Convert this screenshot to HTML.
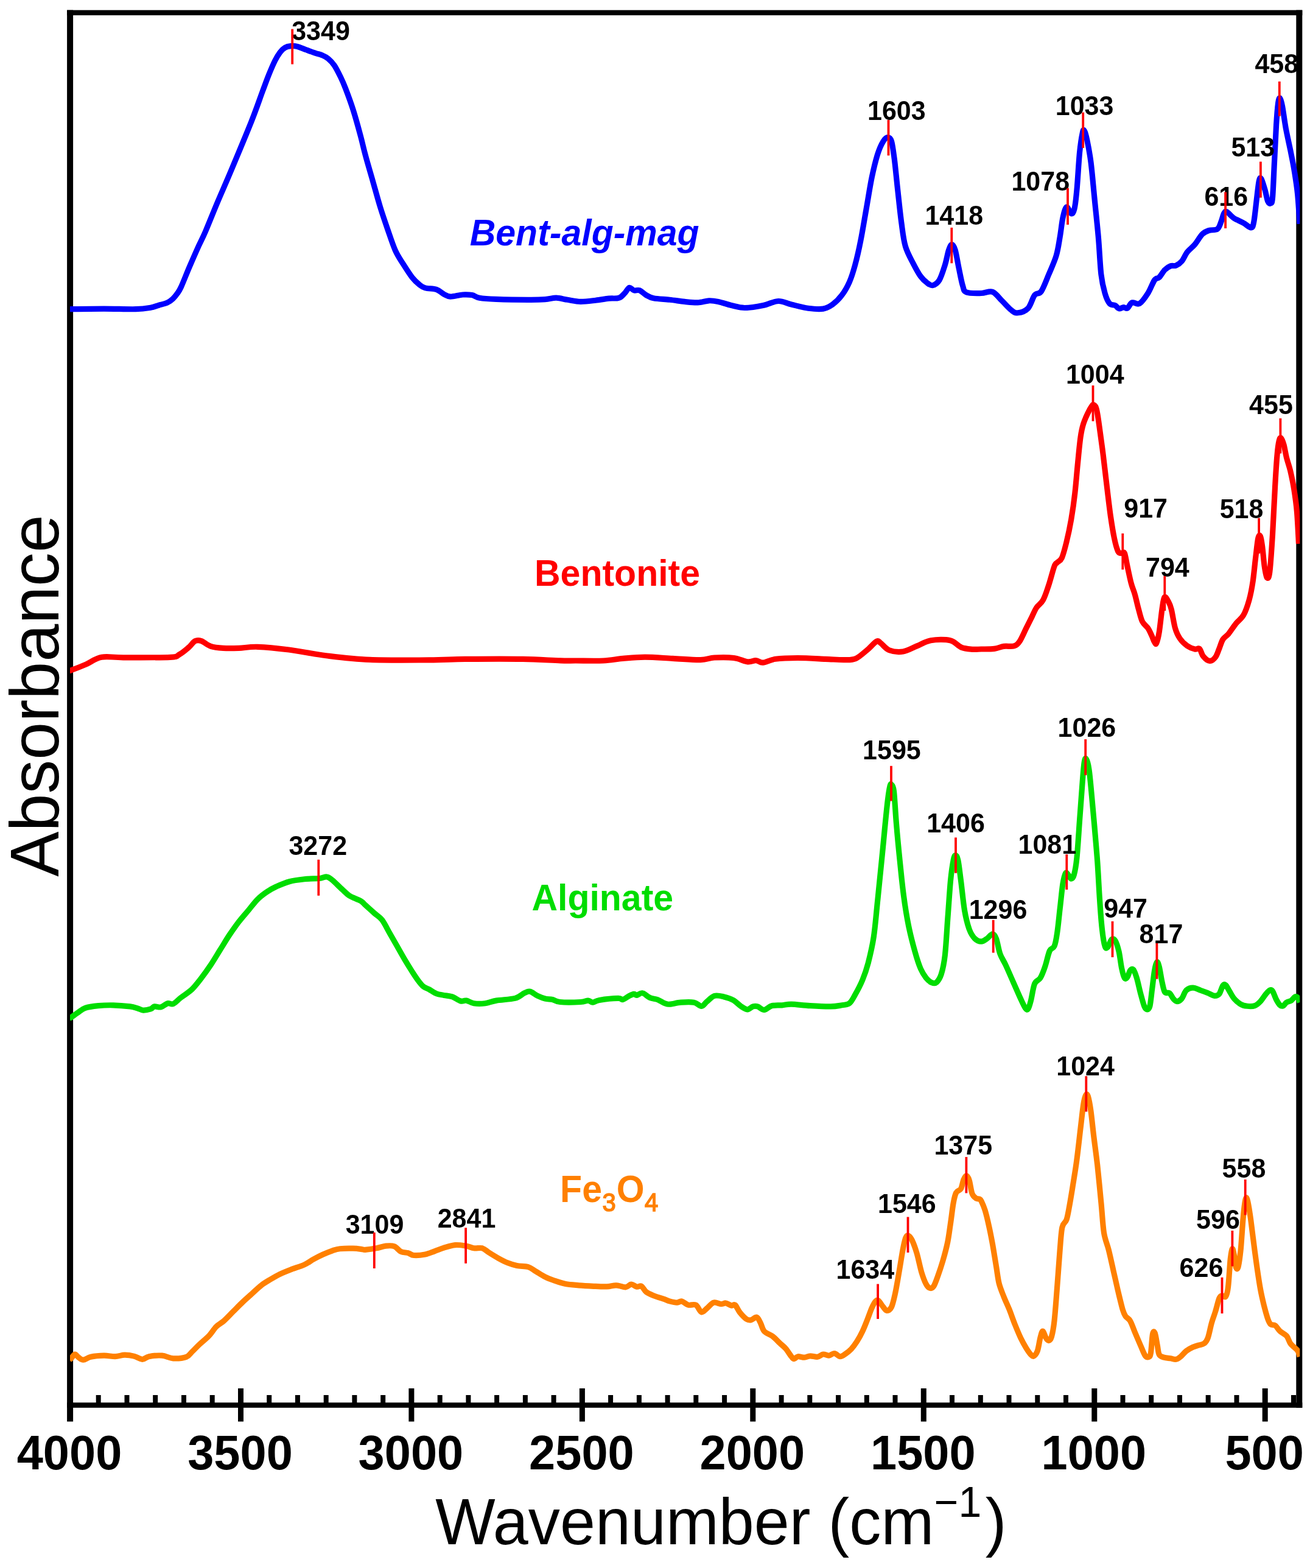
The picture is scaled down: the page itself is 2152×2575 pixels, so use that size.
<!DOCTYPE html>
<html lang="en"><head><meta charset="utf-8"><title>FTIR spectra</title>
<style>html,body{margin:0;padding:0;background:#fff}body{width:2152px;height:2575px;overflow:hidden}svg{display:block}
text{font-family:"Liberation Sans",sans-serif}
.pk{font-weight:bold;font-size:43.0px;fill:#000}
.tk{font-weight:bold;font-size:77.6px;fill:#000;text-anchor:middle}
.sl{font-weight:bold;font-size:59px}
.sb{font-weight:normal;font-size:40px;stroke:#ff8000;stroke-width:1.5px}
.cv{fill:none;stroke-width:9.2;stroke-linejoin:round;stroke-linecap:butt}
.rt{stroke:#ff0000;stroke-width:3.8;fill:none}
</style></head><body>
<svg width="2152" height="2575" viewBox="0 0 2152 2575">
<rect x="0" y="0" width="2152" height="2575" fill="#ffffff"/>
<g fill="#000">
<rect x="110.1" y="16.6" width="10" height="2317.9"/>
<rect x="2129.3" y="16.6" width="10" height="2295.2"/>
<rect x="110.1" y="16.6" width="2029.2" height="8.5"/>
<rect x="110.1" y="2303.3" width="2029.2" height="8.5"/>
<rect x="157.7" y="2291" width="8" height="14"/>
<rect x="204.5" y="2291" width="8" height="14"/>
<rect x="251.2" y="2291" width="8" height="14"/>
<rect x="298.0" y="2291" width="8" height="14"/>
<rect x="344.7" y="2291" width="8" height="14"/>
<rect x="391.0" y="2280" width="9" height="54.5"/>
<rect x="438.2" y="2291" width="8" height="14"/>
<rect x="484.9" y="2291" width="8" height="14"/>
<rect x="531.7" y="2291" width="8" height="14"/>
<rect x="578.4" y="2291" width="8" height="14"/>
<rect x="625.2" y="2291" width="8" height="14"/>
<rect x="671.4" y="2280" width="9" height="54.5"/>
<rect x="718.7" y="2291" width="8" height="14"/>
<rect x="765.4" y="2291" width="8" height="14"/>
<rect x="812.1" y="2291" width="8" height="14"/>
<rect x="858.9" y="2291" width="8" height="14"/>
<rect x="905.6" y="2291" width="8" height="14"/>
<rect x="951.9" y="2280" width="9" height="54.5"/>
<rect x="999.1" y="2291" width="8" height="14"/>
<rect x="1045.9" y="2291" width="8" height="14"/>
<rect x="1092.6" y="2291" width="8" height="14"/>
<rect x="1139.3" y="2291" width="8" height="14"/>
<rect x="1186.1" y="2291" width="8" height="14"/>
<rect x="1232.3" y="2280" width="9" height="54.5"/>
<rect x="1279.6" y="2291" width="8" height="14"/>
<rect x="1326.3" y="2291" width="8" height="14"/>
<rect x="1373.1" y="2291" width="8" height="14"/>
<rect x="1419.8" y="2291" width="8" height="14"/>
<rect x="1466.5" y="2291" width="8" height="14"/>
<rect x="1512.8" y="2280" width="9" height="54.5"/>
<rect x="1560.0" y="2291" width="8" height="14"/>
<rect x="1606.8" y="2291" width="8" height="14"/>
<rect x="1653.5" y="2291" width="8" height="14"/>
<rect x="1700.3" y="2291" width="8" height="14"/>
<rect x="1747.0" y="2291" width="8" height="14"/>
<rect x="1793.3" y="2280" width="9" height="54.5"/>
<rect x="1840.5" y="2291" width="8" height="14"/>
<rect x="1887.2" y="2291" width="8" height="14"/>
<rect x="1934.0" y="2291" width="8" height="14"/>
<rect x="1980.7" y="2291" width="8" height="14"/>
<rect x="2027.5" y="2291" width="8" height="14"/>
<rect x="2073.7" y="2280" width="9" height="54.5"/>
<rect x="2121.0" y="2291" width="8" height="14"/>
</g>
<g class="tk">
<text transform="translate(114.0,2413) scale(1,1.015)">4000</text>
<text transform="translate(394.5,2413) scale(1,1.015)">3500</text>
<text transform="translate(674.9,2413) scale(1,1.015)">3000</text>
<text transform="translate(955.4,2413) scale(1,1.015)">2500</text>
<text transform="translate(1235.8,2413) scale(1,1.015)">2000</text>
<text transform="translate(1516.3,2413) scale(1,1.015)">1500</text>
<text transform="translate(1796.8,2413) scale(1,1.015)">1000</text>
<text transform="translate(2077.2,2413) scale(1,1.015)">500</text>
</g>
<text id="xl" transform="translate(715.2,2536) scale(1,1.025)" font-size="104.3" fill="#000">Wavenumber (cm<tspan font-size="68" dy="-44" dx="0.5">−1</tspan><tspan dy="44" dx="6.5">)</tspan></text>
<text id="yl" transform="translate(95.7,1142.5) rotate(-90) scale(1,1.02)" text-anchor="middle" font-size="111.4" fill="#000">Absorbance</text>
<clipPath id="cp"><rect x="115.0" y="20" width="2020.3" height="2290"/></clipPath>
<g clip-path="url(#cp)"><g transform="scale(1,1.000)">
<path class="cv" stroke="#0000ff" d="M114.0,507.7C114.2,507.7 114.0,507.8 115.4,507.7C124.8,507.6 152.8,507.1 170.8,507.1C188.7,507.1 210.3,508.0 223.1,507.7C235.8,507.4 241.0,506.3 247.3,505.2C253.6,504.1 256.4,502.5 261.0,501.2C265.6,499.9 270.9,498.8 274.7,497.1C278.5,495.4 281.1,493.3 283.8,490.8C286.5,488.3 288.8,485.4 291.1,482.1C293.4,478.8 294.1,478.5 297.5,471.2C300.9,463.9 306.6,448.9 311.2,438.3C315.8,427.7 320.4,417.0 324.8,407.3C329.2,397.6 332.1,392.8 337.6,380.0C343.1,367.2 350.9,347.2 358.0,330.5C365.1,313.8 370.8,301.2 379.9,279.5C389.0,257.8 404.2,221.6 412.8,200.0C421.4,178.4 426.5,162.8 431.3,150.0C436.1,137.2 438.1,131.4 441.5,123.0C444.9,114.6 448.7,105.7 451.8,99.5C454.9,93.3 457.3,89.5 460.0,85.9C462.7,82.4 465.3,79.9 468.2,78.2C471.1,76.5 474.1,75.9 477.4,75.6C480.6,75.3 483.4,75.2 487.7,76.2C492.0,77.2 497.9,79.9 503.0,81.8C508.1,83.7 514.2,86.0 518.5,87.4C522.8,88.9 525.3,89.0 528.7,90.5C532.1,92.0 535.6,93.4 539.0,96.2C542.4,99.0 545.8,102.4 549.2,107.4C552.6,112.5 556.4,120.2 559.5,126.5C562.6,132.8 564.3,136.6 567.7,145.5C571.1,154.4 575.9,167.1 580.0,180.0C584.1,192.9 589.0,210.8 592.3,223.1C595.6,235.4 596.7,241.5 600.0,253.8C603.3,266.2 608.2,282.6 612.3,296.9C616.4,311.3 620.5,326.7 624.6,340.0C628.7,353.3 632.8,365.1 636.9,376.9C641.0,388.7 645.1,401.5 649.2,410.8C653.3,420.0 656.9,424.9 661.5,432.3C666.2,439.7 672.3,449.5 676.9,455.4C681.5,461.3 685.6,464.8 689.2,467.7C692.8,470.6 693.8,471.6 698.5,472.9C703.1,474.2 711.8,473.7 716.9,475.4C722.1,477.1 725.4,481.1 729.2,483.1C733.1,485.0 734.9,486.9 740.0,487.1C745.1,487.2 754.1,484.4 760.0,484.0C765.9,483.6 770.8,483.7 775.4,484.6C780.0,485.5 781.0,488.1 787.7,489.2C794.4,490.4 802.1,490.9 815.4,491.4C828.7,491.9 854.4,492.3 867.7,492.3C881.0,492.4 887.7,492.2 895.4,491.7C903.1,491.2 907.7,489.1 913.8,489.2C920.0,489.3 925.6,491.3 932.3,492.3C939.0,493.3 946.2,495.2 953.8,495.4C961.5,495.5 970.8,494.1 978.5,493.2C986.2,492.4 993.6,490.8 1000.0,490.2C1006.4,489.5 1012.6,490.7 1016.9,489.2C1021.3,487.8 1023.3,484.4 1026.2,481.5C1029.0,478.7 1031.3,473.1 1033.8,472.3C1036.4,471.5 1038.7,476.2 1041.5,476.9C1044.4,477.7 1047.4,475.6 1050.8,476.9C1054.1,478.2 1057.7,482.5 1061.5,484.6C1065.4,486.8 1067.4,488.6 1073.8,489.8C1080.3,491.1 1091.5,491.4 1100.0,492.3C1108.5,493.2 1116.9,494.6 1124.6,495.4C1132.3,496.2 1139.5,497.2 1146.2,496.9C1152.8,496.7 1159.0,494.1 1164.6,493.8C1170.3,493.6 1173.8,494.1 1180.0,495.4C1186.2,496.7 1194.4,499.8 1201.5,501.5C1208.7,503.2 1214.4,505.5 1223.1,505.5C1231.8,505.5 1244.6,503.4 1253.8,501.5C1263.1,499.7 1270.8,494.7 1278.5,494.5C1286.2,494.2 1291.8,498.1 1300.0,500.0C1308.2,501.9 1319.0,505.0 1327.7,506.2C1336.4,507.3 1345.6,508.1 1352.3,507.1C1359.0,506.1 1362.6,503.7 1367.7,500.0C1372.8,496.3 1378.5,490.8 1383.1,484.6C1387.7,478.5 1391.8,471.3 1395.4,463.1C1399.0,454.9 1401.5,446.7 1404.6,435.4C1407.7,424.1 1410.8,410.8 1413.8,395.4C1416.9,380.0 1420.0,360.5 1423.1,343.1C1426.2,325.6 1429.2,305.6 1432.3,290.8C1435.4,275.9 1438.5,263.6 1441.5,253.8C1444.6,244.1 1447.9,237.0 1450.8,232.3C1453.6,227.6 1456.2,225.5 1458.5,225.5C1460.8,225.5 1462.8,226.1 1464.6,232.3C1466.4,238.6 1467.7,249.2 1469.5,263.1C1471.2,276.9 1473.1,297.9 1475.1,315.4C1477.0,332.8 1479.0,352.8 1481.1,367.7C1483.1,382.6 1484.2,393.8 1487.4,404.6C1490.6,415.4 1495.8,424.1 1500.0,432.3C1504.2,440.5 1508.5,448.5 1512.3,453.8C1516.2,459.2 1519.7,462.2 1523.1,464.6C1526.4,467.1 1529.0,469.4 1532.3,468.6C1535.6,467.8 1539.7,465.5 1543.1,460.0C1546.4,454.5 1549.7,443.6 1552.3,435.4C1554.9,427.2 1556.6,416.4 1558.5,410.8C1560.4,405.1 1561.9,401.5 1563.7,401.5C1565.5,401.5 1567.3,404.1 1569.2,410.8C1571.2,417.4 1573.3,431.8 1575.4,441.5C1577.4,451.3 1579.5,462.8 1581.5,469.2C1583.6,475.6 1582.6,477.9 1587.7,480.0C1592.8,482.1 1604.9,481.6 1612.0,481.5C1619.1,481.4 1624.8,477.3 1630.5,479.4C1636.1,481.4 1640.7,488.9 1645.8,493.8C1651.0,498.8 1656.9,505.9 1661.2,509.2C1665.6,512.6 1667.4,514.4 1672.0,513.8C1676.6,513.3 1684.3,511.0 1688.9,506.2C1693.5,501.3 1696.1,489.2 1699.7,484.6C1703.3,480.0 1706.6,484.1 1710.5,478.5C1714.3,472.8 1718.7,460.5 1722.8,450.8C1726.9,441.0 1732.0,430.3 1735.1,420.0C1738.2,409.7 1739.4,399.5 1741.2,389.2C1743.0,379.0 1744.1,366.7 1745.8,358.5C1747.6,350.3 1749.7,341.3 1752.0,340.0C1754.3,338.7 1757.5,350.3 1759.7,350.8C1761.8,351.3 1763.4,349.5 1764.9,343.1C1766.5,336.7 1767.5,327.7 1768.9,312.3C1770.4,297.0 1772.0,266.5 1773.5,250.9C1775.1,235.3 1776.9,224.8 1778.2,218.7C1779.4,212.6 1779.9,212.7 1781.2,214.6C1782.5,216.5 1784.1,221.7 1785.8,230.2C1787.6,238.8 1789.9,249.9 1792.0,266.2C1794.1,282.4 1796.1,307.2 1798.2,327.7C1800.2,348.2 1802.5,368.7 1804.3,389.2C1806.1,409.7 1807.1,435.4 1808.9,450.8C1810.7,466.2 1812.8,473.6 1815.1,481.5C1817.4,489.5 1819.9,495.1 1822.8,498.5C1825.6,501.8 1829.4,500.2 1832.0,501.5C1834.6,502.9 1835.8,506.3 1838.2,506.8C1840.5,507.3 1843.5,504.7 1845.8,504.6C1848.2,504.5 1849.7,507.4 1852.0,506.2C1854.3,504.9 1856.4,498.2 1859.7,496.9C1863.0,495.6 1867.6,501.0 1872.0,498.5C1876.4,495.9 1881.7,487.9 1885.8,481.5C1889.9,475.1 1893.5,464.4 1896.6,460.0C1899.7,455.6 1901.5,458.2 1904.3,455.4C1907.1,452.6 1910.5,446.2 1913.5,443.1C1916.6,440.0 1919.7,438.1 1922.8,436.9C1925.8,435.7 1928.9,437.3 1932.0,436.0C1935.1,434.7 1938.2,432.9 1941.2,429.2C1944.3,425.5 1946.9,418.5 1950.5,413.8C1954.1,409.2 1958.7,406.4 1962.8,401.5C1966.9,396.7 1971.2,388.5 1975.1,384.6C1978.9,380.8 1981.7,379.8 1985.8,378.5C1989.9,377.1 1996.4,378.6 1999.7,376.3C2003.0,374.0 2004.1,368.9 2005.8,364.6C2007.6,360.4 2008.9,353.6 2010.5,350.8C2012.0,347.9 2012.3,346.4 2015.1,347.7C2017.9,349.0 2022.8,355.4 2027.4,358.5C2032.0,361.5 2038.2,363.6 2042.8,366.2C2047.4,368.7 2052.3,374.1 2055.1,373.8C2057.9,373.6 2058.2,372.3 2059.7,364.6C2061.2,356.9 2062.9,339.0 2064.3,327.7C2065.7,316.4 2067.0,302.6 2068.3,296.9C2069.6,291.3 2070.4,291.3 2072.0,293.8C2073.6,296.4 2076.4,306.2 2078.2,312.3C2079.9,318.5 2081.2,327.2 2082.8,330.8C2084.3,334.4 2086.1,334.9 2087.4,333.8C2088.7,332.8 2089.4,335.9 2090.5,324.6C2091.5,313.3 2092.5,286.1 2093.5,266.2C2094.6,246.2 2095.6,221.2 2096.6,204.9C2097.6,188.7 2098.7,175.9 2099.7,168.6C2100.7,161.4 2101.6,160.3 2102.8,161.3C2103.9,162.3 2105.0,166.2 2106.6,174.5C2108.2,182.7 2110.1,198.6 2112.3,210.8C2114.6,223.0 2117.6,235.9 2120.0,247.7C2122.3,259.5 2124.5,269.7 2126.4,281.5C2128.3,293.3 2130.1,304.1 2131.6,318.5C2133.0,332.8 2134.5,359.5 2135.1,367.7"/>
<path class="cv" stroke="#ff0000" d="M114.0,1101.5C114.7,1101.3 114.0,1102.0 117.9,1100.3C122.5,1098.6 132.9,1094.6 141.0,1091.1C149.1,1087.6 156.4,1081.1 166.7,1079.3C176.9,1077.4 183.8,1079.8 202.6,1079.8C221.4,1079.8 264.1,1080.1 279.5,1079.3C294.9,1078.4 289.7,1077.4 294.9,1074.6C300.0,1071.9 306.0,1066.5 310.3,1062.9C314.5,1059.2 317.1,1054.3 320.5,1052.6C323.9,1050.9 326.5,1051.1 330.8,1052.6C335.0,1054.0 340.2,1059.3 346.2,1061.3C352.1,1063.3 359.0,1063.9 366.7,1064.4C374.4,1064.9 382.9,1064.7 392.3,1064.4C401.7,1064.0 409.4,1061.9 423.1,1062.3C436.8,1062.8 455.6,1064.6 474.4,1067.0C493.2,1069.3 513.7,1074.0 535.9,1076.7C558.1,1079.4 579.5,1082.2 607.7,1083.4C635.9,1084.6 678.6,1084.0 705.1,1083.9C731.6,1083.7 741.0,1082.6 766.7,1082.3C792.3,1082.1 833.3,1081.9 859.0,1082.3C884.6,1082.8 906.1,1084.5 920.5,1084.9C934.9,1085.3 933.8,1085.0 945.6,1085.0C957.4,1085.0 978.3,1085.6 991.2,1085.0C1004.1,1084.4 1011.7,1082.4 1023.1,1081.4C1034.5,1080.4 1045.9,1079.1 1059.5,1079.1C1073.2,1079.1 1089.9,1080.6 1105.1,1081.4C1120.3,1082.1 1139.3,1083.9 1150.7,1083.6C1162.1,1083.4 1164.4,1080.5 1173.5,1080.0C1182.6,1079.5 1196.3,1079.3 1205.4,1080.5C1214.5,1081.6 1222.1,1086.2 1228.2,1086.8C1234.3,1087.5 1237.7,1084.3 1241.9,1084.6C1246.1,1084.8 1248.0,1088.6 1253.3,1088.2C1258.6,1087.8 1264.3,1083.6 1273.8,1082.3C1283.3,1081.0 1296.6,1080.5 1310.3,1080.5C1323.9,1080.5 1342.9,1081.7 1355.8,1082.3C1368.8,1082.8 1379.4,1083.8 1387.7,1083.6C1396.1,1083.5 1399.9,1084.0 1406.0,1081.4C1412.1,1078.7 1418.5,1072.4 1424.2,1067.7C1429.9,1063.0 1436.4,1055.0 1440.2,1053.1C1444.0,1051.2 1443.6,1053.9 1447.0,1056.3C1450.4,1058.7 1454.6,1065.4 1460.7,1067.7C1466.8,1070.0 1475.9,1071.1 1483.5,1070.0C1491.1,1068.8 1498.7,1063.9 1506.3,1060.9C1513.9,1057.8 1519.9,1053.3 1529.1,1051.7C1538.2,1050.2 1552.6,1049.8 1561.0,1051.7C1569.3,1053.6 1573.1,1060.7 1579.2,1063.1C1585.3,1065.6 1592.0,1065.8 1597.4,1066.3C1602.9,1066.8 1606.0,1066.2 1612.0,1066.0C1618.0,1065.9 1627.4,1066.2 1633.5,1065.4C1639.7,1064.6 1643.5,1062.2 1648.9,1061.4C1654.3,1060.6 1661.5,1062.2 1665.8,1060.8C1670.2,1059.4 1671.7,1058.0 1675.1,1053.1C1678.4,1048.2 1682.5,1038.2 1685.8,1031.6C1689.2,1024.9 1692.3,1018.7 1695.1,1013.1C1697.9,1007.5 1699.7,1002.3 1702.8,997.7C1705.8,993.1 1710.2,991.6 1713.5,985.4C1716.9,979.3 1719.7,970.0 1722.8,960.8C1725.8,951.6 1729.7,936.2 1732.0,930.0C1734.3,923.9 1734.6,926.2 1736.6,923.9C1738.7,921.6 1741.7,921.8 1744.3,916.2C1746.9,910.5 1749.4,900.5 1752.0,890.0C1754.6,879.5 1757.4,866.4 1759.7,853.1C1762.0,839.8 1764.1,825.4 1765.8,810.0C1767.6,794.6 1768.9,776.2 1770.5,760.8C1772.0,745.4 1773.5,728.5 1775.1,717.7C1776.6,707.0 1777.6,702.9 1779.7,696.2C1781.7,689.5 1785.1,682.6 1787.4,677.7C1789.7,672.9 1792.0,669.1 1793.5,667.0C1795.1,664.8 1795.3,664.0 1796.6,664.8C1797.9,665.6 1799.7,665.8 1801.2,671.6C1802.8,677.3 1804.1,687.0 1805.8,699.3C1807.6,711.6 1809.9,729.0 1812.0,745.4C1814.1,761.8 1816.1,780.8 1818.2,797.7C1820.2,814.6 1822.3,832.6 1824.3,847.0C1826.4,861.3 1828.4,874.1 1830.5,883.9C1832.5,893.6 1834.6,901.3 1836.6,905.4C1838.7,909.5 1841.0,908.0 1842.8,908.5C1844.6,909.0 1845.8,904.9 1847.4,908.5C1848.9,912.1 1850.2,921.8 1852.0,930.0C1853.8,938.2 1856.1,950.0 1858.2,957.7C1860.2,965.4 1862.3,969.0 1864.3,976.2C1866.4,983.4 1868.4,993.4 1870.5,1000.8C1872.5,1008.2 1874.1,1015.7 1876.6,1020.8C1879.2,1025.9 1883.3,1027.7 1885.8,1031.6C1888.4,1035.4 1890.2,1040.0 1892.0,1043.9C1893.8,1047.7 1895.3,1052.6 1896.6,1054.6C1897.9,1056.7 1898.4,1059.0 1899.7,1056.2C1901.0,1053.4 1902.8,1047.0 1904.3,1037.7C1905.8,1028.5 1907.5,1010.3 1908.9,1000.8C1910.4,991.3 1911.1,982.9 1912.9,980.8C1914.7,978.7 1917.8,985.2 1919.7,988.5C1921.6,991.8 1922.5,993.6 1924.3,1000.8C1926.1,1008.0 1928.2,1023.6 1930.5,1031.6C1932.8,1039.5 1934.8,1043.6 1938.2,1048.5C1941.5,1053.4 1946.4,1057.9 1950.5,1060.8C1954.6,1063.7 1959.4,1065.3 1962.8,1066.0C1966.1,1066.8 1968.2,1063.5 1970.5,1065.4C1972.8,1067.4 1973.8,1074.4 1976.6,1077.7C1979.4,1081.1 1984.1,1085.2 1987.4,1085.4C1990.7,1085.7 1994.1,1082.6 1996.6,1079.3C1999.2,1075.9 2000.7,1070.3 2002.8,1065.4C2004.8,1060.5 2006.4,1054.1 2008.9,1050.0C2011.5,1045.9 2014.6,1045.2 2018.2,1040.8C2021.7,1036.4 2026.4,1029.0 2030.5,1023.9C2034.6,1018.7 2039.2,1016.4 2042.8,1010.0C2046.4,1003.6 2049.4,994.6 2052.0,985.4C2054.6,976.2 2056.4,966.4 2058.2,954.6C2059.9,942.9 2061.3,926.4 2062.8,914.6C2064.2,902.9 2065.5,889.5 2066.8,883.9C2068.1,878.2 2069.3,878.7 2070.5,880.8C2071.6,882.9 2072.4,888.0 2073.5,896.2C2074.7,904.4 2075.9,921.3 2077.2,930.0C2078.5,938.7 2079.8,947.0 2081.2,948.5C2082.7,950.0 2084.3,951.1 2085.8,939.3C2087.4,927.5 2089.0,900.8 2090.5,877.7C2091.9,854.6 2093.2,822.9 2094.5,800.8C2095.7,778.7 2097.0,758.2 2098.2,745.4C2099.3,732.6 2100.2,728.2 2101.2,723.9C2102.3,719.5 2103.0,718.2 2104.3,719.3C2105.6,720.3 2107.4,724.6 2108.9,730.0C2110.5,735.4 2111.7,744.4 2113.5,751.6C2115.3,758.7 2117.6,764.4 2119.7,773.1C2121.7,781.8 2124.1,792.6 2125.8,803.9C2127.6,815.2 2129.2,825.9 2130.5,840.8C2131.7,855.7 2133.0,884.4 2133.5,893.1"/>
<path class="cv" stroke="#00dd00" d="M114.0,1672.1C114.5,1671.9 114.6,1672.3 116.9,1670.8C119.2,1669.3 123.8,1665.6 127.7,1663.1C131.5,1660.5 134.4,1657.3 140.0,1655.4C145.6,1653.5 153.8,1652.5 161.5,1651.7C169.2,1650.9 177.4,1650.6 186.2,1650.8C194.9,1651.0 207.2,1652.1 213.8,1652.9C220.5,1653.8 222.6,1655.0 226.2,1656.0C229.7,1657.0 231.8,1658.9 235.4,1659.1C239.0,1659.2 244.6,1657.9 247.7,1656.9C250.8,1655.9 251.0,1653.4 253.8,1652.9C256.7,1652.4 261.0,1654.7 264.6,1653.8C268.2,1653.0 272.1,1648.6 275.4,1647.7C278.7,1646.8 281.0,1650.2 284.6,1648.6C288.2,1647.1 291.8,1642.5 296.9,1638.5C302.1,1634.5 309.7,1630.0 315.4,1624.6C321.0,1619.2 325.6,1612.8 330.8,1606.2C335.9,1599.5 341.0,1592.3 346.2,1584.6C351.3,1576.9 356.4,1568.2 361.5,1560.0C366.7,1551.8 371.8,1543.1 376.9,1535.4C382.1,1527.7 387.2,1520.5 392.3,1513.8C397.4,1507.2 402.6,1501.5 407.7,1495.4C412.8,1489.2 417.9,1482.1 423.1,1476.9C428.2,1471.8 433.3,1468.1 438.5,1464.6C443.6,1461.1 447.7,1458.8 453.8,1456.0C460.0,1453.2 467.7,1449.7 475.4,1447.7C483.1,1445.6 491.8,1444.6 500.0,1443.7C508.2,1442.8 518.5,1443.1 524.6,1442.5C530.8,1441.8 533.3,1439.5 536.9,1440.0C540.5,1440.5 542.1,1442.2 546.2,1445.5C550.3,1448.9 556.9,1455.8 561.5,1460.0C566.2,1464.2 568.7,1467.5 573.8,1470.8C579.0,1474.0 587.9,1476.8 592.3,1479.4C596.7,1481.9 596.2,1482.7 600.0,1486.2C603.8,1489.6 610.8,1495.9 615.4,1500.0C620.0,1504.1 623.6,1505.4 627.7,1510.8C631.8,1516.2 635.9,1525.1 640.0,1532.3C644.1,1539.5 648.2,1546.7 652.3,1553.8C656.4,1561.0 660.5,1568.5 664.6,1575.4C668.7,1582.3 673.3,1589.7 676.9,1595.4C680.5,1601.0 683.1,1605.1 686.2,1609.2C689.2,1613.3 692.3,1617.4 695.4,1620.0C698.5,1622.6 701.0,1622.7 704.6,1624.6C708.2,1626.6 712.8,1630.1 716.9,1631.7C721.0,1633.3 724.9,1633.6 729.2,1634.5C733.6,1635.3 738.5,1635.3 743.1,1636.9C747.7,1638.5 753.1,1643.0 756.9,1644.0C760.8,1645.0 762.6,1642.5 766.2,1643.1C769.7,1643.7 773.3,1646.9 778.5,1647.7C783.6,1648.5 790.8,1648.5 796.9,1647.7C803.1,1646.9 807.2,1644.5 815.4,1643.1C823.6,1641.7 838.5,1641.4 846.2,1639.4C853.8,1637.3 857.4,1632.6 861.5,1630.8C865.6,1628.9 867.2,1627.5 870.8,1628.3C874.4,1629.1 879.0,1633.4 883.1,1635.4C887.2,1637.3 891.3,1639.0 895.4,1640.0C899.5,1641.0 903.6,1640.6 907.7,1641.5C911.8,1642.5 912.3,1644.9 920.0,1645.5C927.7,1646.2 946.2,1645.9 953.8,1645.5C961.5,1645.1 962.8,1643.0 966.2,1643.1C969.5,1643.2 970.8,1646.3 973.8,1646.2C976.9,1646.1 977.7,1643.6 984.6,1642.5C991.5,1641.3 1009.0,1639.5 1015.4,1639.4C1021.8,1639.2 1020.0,1642.2 1023.1,1641.5C1026.2,1640.9 1030.8,1636.9 1033.8,1635.4C1036.9,1633.8 1039.5,1632.5 1041.5,1632.3C1043.6,1632.2 1043.8,1634.7 1046.2,1634.5C1048.5,1634.2 1051.8,1630.1 1055.4,1630.8C1059.0,1631.4 1063.6,1636.7 1067.7,1638.5C1071.8,1640.3 1075.9,1640.0 1080.0,1641.5C1084.1,1643.1 1089.0,1646.4 1092.3,1647.7C1095.6,1649.0 1095.6,1649.5 1100.0,1649.2C1104.4,1649.0 1111.8,1646.7 1118.5,1646.2C1125.1,1645.6 1134.4,1645.1 1140.0,1646.2C1145.6,1647.2 1148.7,1652.6 1152.3,1652.3C1155.9,1652.1 1157.9,1647.4 1161.5,1644.6C1165.1,1641.8 1169.2,1636.7 1173.8,1635.4C1178.5,1634.1 1184.1,1635.7 1189.2,1636.9C1194.4,1638.1 1200.0,1639.9 1204.6,1642.5C1209.2,1645.0 1213.1,1649.7 1216.9,1652.3C1220.8,1654.9 1224.4,1657.7 1227.7,1657.8C1231.0,1657.9 1234.1,1653.7 1236.9,1652.9C1239.7,1652.1 1241.5,1652.0 1244.6,1652.9C1247.7,1653.8 1251.5,1658.7 1255.4,1658.5C1259.2,1658.3 1262.8,1653.0 1267.7,1651.7C1272.6,1650.4 1279.2,1651.2 1284.6,1650.8C1290.0,1650.4 1292.3,1649.1 1300.0,1649.2C1307.7,1649.4 1320.0,1651.1 1330.8,1651.7C1341.5,1652.3 1355.9,1653.1 1364.6,1652.9C1373.3,1652.8 1377.9,1651.6 1383.1,1650.8C1388.2,1649.9 1391.8,1650.5 1395.4,1647.7C1399.0,1644.9 1401.0,1640.3 1404.6,1633.8C1408.2,1627.4 1413.3,1617.9 1416.9,1609.2C1420.5,1600.5 1423.1,1593.3 1426.2,1581.5C1429.2,1569.7 1432.7,1555.9 1435.3,1538.5C1437.9,1521.0 1439.7,1497.4 1441.9,1476.9C1444.0,1456.4 1446.1,1435.9 1448.1,1415.4C1450.2,1394.9 1452.4,1370.7 1454.1,1353.8C1455.8,1336.9 1457.0,1324.4 1458.3,1314.0C1459.6,1303.5 1460.9,1295.2 1462.0,1291.0C1463.0,1286.8 1463.5,1287.1 1464.6,1288.6C1465.7,1290.0 1467.1,1288.7 1468.5,1299.6C1469.8,1310.5 1470.9,1334.5 1472.6,1353.8C1474.2,1373.1 1476.4,1395.9 1478.4,1415.4C1480.4,1434.9 1482.1,1453.3 1484.5,1470.8C1486.8,1488.2 1489.4,1504.6 1492.5,1520.0C1495.6,1535.4 1499.8,1551.3 1503.1,1563.1C1506.4,1574.9 1509.2,1583.6 1512.3,1590.8C1515.4,1597.9 1518.5,1602.3 1521.5,1606.2C1524.6,1610.0 1527.9,1612.7 1530.8,1613.8C1533.6,1615.0 1535.9,1615.5 1538.5,1613.2C1541.0,1610.9 1543.8,1607.3 1546.2,1600.0C1548.5,1592.7 1550.5,1584.6 1552.3,1569.2C1554.1,1553.8 1555.4,1528.2 1556.9,1507.7C1558.5,1487.2 1560.0,1462.1 1561.5,1446.2C1563.1,1430.3 1564.8,1419.2 1566.2,1412.3C1567.5,1405.4 1568.6,1404.6 1569.8,1404.6C1571.1,1404.6 1572.4,1405.4 1573.8,1412.3C1575.3,1419.2 1576.7,1432.3 1578.5,1446.2C1580.3,1460.0 1582.3,1482.1 1584.6,1495.4C1586.9,1508.7 1589.5,1518.5 1592.3,1526.2C1595.1,1533.8 1598.3,1538.2 1601.5,1541.5C1604.8,1544.9 1608.7,1546.2 1612.0,1546.2C1615.3,1546.2 1618.2,1543.6 1621.2,1541.5C1624.3,1539.5 1627.9,1533.8 1630.5,1533.8C1633.0,1533.8 1634.6,1536.2 1636.6,1541.5C1638.7,1546.9 1640.2,1559.0 1642.8,1566.2C1645.3,1573.3 1648.4,1576.9 1652.0,1584.6C1655.6,1592.3 1660.2,1603.1 1664.3,1612.3C1668.4,1621.5 1673.3,1632.8 1676.6,1640.0C1679.9,1647.2 1682.3,1652.6 1684.3,1655.4C1686.4,1658.2 1687.4,1659.0 1688.9,1656.9C1690.5,1654.9 1691.7,1650.0 1693.5,1643.1C1695.3,1636.2 1697.1,1621.5 1699.7,1615.4C1702.3,1609.2 1706.1,1610.8 1708.9,1606.2C1711.7,1601.5 1714.1,1595.1 1716.6,1587.7C1719.2,1580.3 1721.7,1567.2 1724.3,1561.5C1726.9,1555.9 1729.9,1558.7 1732.0,1553.8C1734.1,1549.0 1735.1,1542.6 1736.6,1532.3C1738.2,1522.1 1739.7,1505.6 1741.2,1492.3C1742.8,1479.0 1744.3,1462.1 1745.8,1452.3C1747.4,1442.6 1748.9,1436.4 1750.5,1433.8C1752.0,1431.3 1753.5,1435.4 1755.1,1436.9C1756.6,1438.5 1758.2,1443.1 1759.7,1443.1C1761.2,1443.1 1762.8,1442.6 1764.3,1436.9C1765.8,1431.3 1767.4,1424.1 1768.9,1409.2C1770.5,1394.4 1772.0,1368.6 1773.5,1347.7C1775.1,1326.8 1776.9,1299.8 1778.2,1283.8C1779.4,1267.8 1780.2,1257.9 1781.2,1251.6C1782.3,1245.3 1783.0,1244.4 1784.3,1246.3C1785.6,1248.2 1787.4,1252.8 1788.9,1263.1C1790.5,1273.3 1792.0,1291.5 1793.5,1307.7C1795.1,1323.8 1796.6,1342.1 1798.2,1360.0C1799.7,1377.9 1801.4,1395.9 1802.8,1415.4C1804.2,1434.9 1805.2,1458.5 1806.5,1476.9C1807.7,1495.4 1809.0,1513.3 1810.5,1526.2C1811.9,1539.0 1813.5,1549.0 1815.1,1553.8C1816.6,1558.7 1817.9,1557.2 1819.7,1555.4C1821.5,1553.6 1823.8,1544.9 1825.8,1543.1C1827.9,1541.3 1829.9,1541.3 1832.0,1544.6C1834.1,1547.9 1836.4,1555.4 1838.2,1563.1C1839.9,1570.8 1841.2,1583.6 1842.8,1590.8C1844.3,1597.9 1845.8,1603.8 1847.4,1606.2C1848.9,1608.5 1850.5,1606.7 1852.0,1604.6C1853.5,1602.6 1855.0,1595.9 1856.6,1593.8C1858.3,1591.8 1860.1,1590.3 1861.8,1592.3C1863.6,1594.4 1865.4,1599.7 1867.4,1606.2C1869.3,1612.6 1871.5,1623.1 1873.5,1630.8C1875.6,1638.5 1877.9,1647.8 1879.7,1652.3C1881.5,1656.8 1882.8,1657.8 1884.3,1657.8C1885.8,1657.8 1887.5,1657.8 1888.9,1652.3C1890.3,1646.8 1891.3,1634.4 1892.6,1624.6C1893.9,1614.9 1895.3,1601.3 1896.6,1593.8C1897.9,1586.4 1899.3,1581.0 1900.6,1580.0C1901.9,1579.0 1902.9,1582.3 1904.3,1587.7C1905.7,1593.1 1907.4,1605.4 1908.9,1612.3C1910.5,1619.2 1911.5,1626.2 1913.5,1629.2C1915.6,1632.3 1918.9,1629.0 1921.2,1630.8C1923.5,1632.6 1925.3,1637.7 1927.4,1640.0C1929.4,1642.3 1931.2,1644.6 1933.5,1644.6C1935.8,1644.6 1938.7,1643.1 1941.2,1640.0C1943.8,1636.9 1945.8,1629.1 1948.9,1626.2C1952.0,1623.2 1955.8,1622.2 1959.7,1622.2C1963.5,1622.2 1967.9,1624.7 1972.0,1626.2C1976.1,1627.6 1980.5,1629.2 1984.3,1630.8C1988.2,1632.3 1992.0,1635.1 1995.1,1635.4C1998.2,1635.6 2000.5,1635.1 2002.8,1632.3C2005.1,1629.5 2007.1,1620.9 2008.9,1618.5C2010.7,1616.1 2011.7,1616.3 2013.5,1617.8C2015.3,1619.4 2017.4,1624.0 2019.7,1627.7C2022.0,1631.4 2024.3,1636.4 2027.4,1640.0C2030.5,1643.6 2034.6,1647.2 2038.2,1649.2C2041.7,1651.3 2045.1,1651.9 2048.9,1652.3C2052.8,1652.7 2057.6,1653.0 2061.2,1651.7C2064.8,1650.4 2067.4,1647.8 2070.5,1644.6C2073.5,1641.4 2077.1,1635.4 2079.7,1632.3C2082.3,1629.2 2084.1,1626.9 2085.8,1626.2C2087.6,1625.4 2088.7,1625.1 2090.5,1627.7C2092.3,1630.3 2094.6,1637.7 2096.6,1641.5C2098.7,1645.4 2100.9,1649.1 2102.8,1650.8C2104.7,1652.5 2106.2,1652.5 2108.0,1651.7C2109.8,1650.9 2111.3,1647.6 2113.5,1646.2C2115.7,1644.7 2118.9,1644.6 2121.2,1643.1C2123.5,1641.5 2125.6,1637.7 2127.4,1636.9C2129.2,1636.2 2130.7,1636.9 2132.0,1638.5C2133.3,1640.0 2134.6,1644.9 2135.1,1646.2"/>
<path class="cv" stroke="#ff8000" d="M114.0,2232.9C114.5,2232.5 115.4,2232.2 116.9,2230.8C118.4,2229.3 121.0,2224.3 123.1,2224.0C125.1,2223.7 126.9,2227.7 129.2,2229.2C131.5,2230.8 133.6,2233.4 136.9,2233.2C140.3,2233.1 143.6,2229.5 149.2,2228.3C154.9,2227.1 164.1,2226.3 170.8,2226.2C177.4,2226.1 183.6,2227.8 189.2,2227.7C194.9,2227.5 199.5,2225.3 204.6,2225.2C209.7,2225.1 215.1,2225.9 220.0,2227.1C224.9,2228.3 229.7,2232.2 233.8,2232.3C237.9,2232.4 239.2,2228.7 244.6,2227.7C250.0,2226.7 259.5,2225.6 266.2,2226.2C272.8,2226.7 277.9,2230.4 284.6,2230.8C291.3,2231.1 301.0,2230.1 306.2,2228.3C311.3,2226.5 311.8,2223.4 315.4,2220.0C319.0,2216.6 323.1,2212.1 327.7,2207.7C332.3,2203.3 338.5,2198.7 343.1,2193.8C347.7,2189.0 351.3,2182.6 355.4,2178.5C359.5,2174.4 363.1,2173.3 367.7,2169.2C372.3,2165.1 377.9,2159.0 383.1,2153.8C388.2,2148.7 393.3,2143.3 398.5,2138.5C403.6,2133.6 408.7,2129.2 413.8,2124.6C419.0,2120.0 424.1,2114.7 429.2,2110.8C434.4,2106.8 439.5,2104.0 444.6,2100.9C449.7,2097.8 454.4,2095.0 460.0,2092.3C465.6,2089.6 471.8,2087.2 478.5,2084.6C485.1,2082.1 493.8,2079.7 500.0,2076.9C506.2,2074.1 510.3,2070.5 515.4,2067.7C520.5,2064.9 525.6,2062.3 530.8,2060.0C535.9,2057.7 541.5,2055.4 546.2,2053.8C550.8,2052.3 552.8,2051.4 558.5,2050.8C564.1,2050.2 573.8,2050.0 580.0,2050.2C586.2,2050.3 592.1,2051.3 595.4,2051.7C598.7,2052.1 596.2,2052.6 600.0,2052.3C603.8,2052.0 612.8,2050.9 618.5,2049.8C624.1,2048.8 629.0,2046.7 633.8,2046.2C638.7,2045.6 643.6,2045.2 647.7,2046.8C651.8,2048.3 654.6,2053.5 658.5,2055.4C662.3,2057.2 667.2,2056.8 670.8,2057.8C674.4,2058.9 675.4,2061.2 680.0,2061.5C684.6,2061.9 692.8,2061.1 698.5,2060.0C704.1,2058.9 708.7,2056.6 713.8,2054.8C719.0,2053.0 723.6,2050.9 729.2,2049.2C734.9,2047.5 741.5,2045.1 747.7,2044.6C753.8,2044.1 761.0,2045.3 766.2,2046.2C771.3,2047.0 774.1,2049.2 778.5,2049.8C782.8,2050.5 788.2,2048.7 792.3,2049.8C796.4,2051.0 798.7,2054.2 803.1,2056.9C807.4,2059.6 813.3,2063.3 818.5,2066.2C823.6,2069.0 828.7,2071.8 833.8,2073.8C839.0,2075.9 843.6,2077.3 849.2,2078.5C854.9,2079.6 862.6,2079.1 867.7,2080.6C872.8,2082.2 875.4,2085.0 880.0,2087.7C884.6,2090.4 890.3,2094.4 895.4,2096.9C900.5,2099.5 905.1,2101.1 910.8,2103.1C916.4,2105.0 922.6,2107.3 929.2,2108.6C935.9,2109.9 943.1,2110.2 950.8,2110.8C958.5,2111.4 967.7,2111.9 975.4,2112.3C983.1,2112.7 990.8,2113.2 996.9,2112.9C1003.1,2112.7 1007.2,2110.6 1012.3,2110.8C1017.4,2110.9 1023.6,2114.1 1027.7,2113.8C1031.8,2113.6 1033.8,2109.3 1036.9,2109.2C1040.0,2109.1 1043.3,2112.7 1046.2,2113.2C1049.0,2113.7 1051.3,2110.9 1053.8,2112.3C1056.4,2113.7 1058.2,2119.0 1061.5,2121.5C1064.9,2124.1 1068.7,2125.6 1073.8,2127.7C1079.0,2129.7 1087.9,2132.3 1092.3,2133.8C1096.7,2135.4 1096.7,2136.1 1100.0,2136.9C1103.3,2137.8 1109.0,2139.1 1112.3,2139.1C1115.6,2139.1 1116.9,2136.3 1120.0,2136.9C1123.1,2137.6 1126.9,2142.1 1130.8,2143.1C1134.6,2144.1 1139.5,2141.1 1143.1,2143.1C1146.7,2145.0 1149.2,2153.9 1152.3,2154.8C1155.4,2155.6 1158.2,2150.9 1161.5,2148.3C1164.9,2145.7 1168.5,2140.2 1172.3,2139.1C1176.2,2137.9 1181.3,2141.4 1184.6,2141.5C1187.9,2141.7 1189.5,2139.6 1192.3,2140.0C1195.1,2140.4 1199.0,2143.5 1201.5,2144.0C1204.1,2144.5 1205.4,2141.2 1207.7,2143.1C1210.0,2145.0 1212.3,2151.5 1215.4,2155.4C1218.5,2159.2 1223.1,2164.1 1226.2,2166.2C1229.2,2168.2 1231.0,2168.2 1233.8,2167.7C1236.7,2167.2 1240.5,2162.3 1243.1,2163.1C1245.6,2163.8 1247.2,2168.5 1249.2,2172.3C1251.3,2176.2 1252.1,2182.5 1255.4,2186.2C1258.7,2189.8 1264.9,2191.1 1269.2,2194.5C1273.6,2197.8 1277.9,2202.8 1281.5,2206.2C1285.1,2209.5 1287.7,2211.2 1290.8,2214.8C1293.8,2218.4 1297.7,2224.9 1300.0,2227.7C1302.3,2230.5 1302.8,2231.7 1304.6,2231.7C1306.4,2231.7 1307.9,2228.1 1310.8,2227.7C1313.6,2227.3 1318.2,2229.4 1321.5,2229.2C1324.9,2229.1 1327.2,2226.9 1330.8,2226.8C1334.4,2226.6 1339.5,2228.8 1343.1,2228.3C1346.7,2227.8 1349.2,2224.4 1352.3,2224.0C1355.4,2223.6 1358.5,2226.4 1361.5,2226.2C1364.6,2225.9 1367.7,2222.2 1370.8,2222.5C1373.8,2222.7 1376.9,2227.6 1380.0,2227.7C1383.1,2227.8 1386.2,2225.1 1389.2,2223.1C1392.3,2221.0 1395.4,2218.7 1398.5,2215.4C1401.5,2212.1 1404.6,2207.9 1407.7,2203.1C1410.8,2198.2 1414.1,2192.1 1416.9,2186.2C1419.7,2180.3 1422.1,2174.1 1424.6,2167.7C1427.2,2161.3 1430.0,2152.8 1432.3,2147.7C1434.6,2142.6 1436.7,2138.9 1438.5,2136.9C1440.3,2135.0 1441.0,2134.5 1443.1,2136.0C1445.1,2137.5 1448.5,2143.4 1450.8,2146.2C1453.1,2148.9 1454.6,2152.3 1456.9,2152.3C1459.2,2152.3 1462.3,2151.0 1464.6,2146.2C1466.9,2141.3 1468.7,2132.6 1470.8,2123.1C1472.8,2113.6 1474.9,2101.0 1476.9,2089.2C1479.0,2077.4 1481.3,2061.7 1483.1,2052.3C1484.9,2042.9 1486.2,2036.9 1487.7,2033.0C1489.2,2029.2 1490.5,2028.5 1492.3,2029.2C1494.1,2029.9 1496.2,2032.4 1498.5,2037.3C1500.8,2042.1 1503.6,2049.8 1506.2,2058.5C1508.7,2067.1 1511.3,2080.8 1513.8,2089.2C1516.4,2097.7 1519.2,2104.9 1521.5,2109.2C1523.8,2113.6 1525.6,2114.9 1527.7,2115.4C1529.7,2115.9 1531.7,2115.6 1533.8,2112.3C1536.0,2109.0 1538.2,2102.3 1540.7,2095.4C1543.2,2088.5 1546.1,2080.0 1548.8,2070.8C1551.5,2061.5 1554.5,2050.8 1556.7,2040.0C1558.9,2029.2 1560.3,2016.9 1561.9,2006.2C1563.5,1995.4 1564.7,1983.3 1566.2,1975.4C1567.6,1967.4 1568.7,1962.3 1570.8,1958.5C1572.8,1954.6 1576.4,1955.9 1578.5,1952.3C1580.5,1948.7 1581.5,1940.5 1583.1,1936.9C1584.6,1933.3 1586.2,1930.5 1587.7,1930.8C1589.2,1931.0 1590.8,1933.6 1592.3,1938.5C1593.8,1943.3 1595.1,1955.1 1596.9,1960.0C1598.7,1964.9 1601.0,1966.2 1603.1,1967.7C1605.1,1969.2 1607.7,1968.5 1609.2,1969.2C1610.7,1970.0 1610.5,1969.2 1612.0,1972.3C1613.5,1975.4 1616.1,1981.0 1618.2,1987.7C1620.2,1994.4 1622.3,2003.1 1624.3,2012.3C1626.4,2021.5 1628.4,2031.8 1630.5,2043.1C1632.5,2054.4 1634.8,2069.2 1636.6,2080.0C1638.4,2090.8 1639.2,2099.5 1641.2,2107.7C1643.3,2115.9 1646.1,2122.1 1648.9,2129.2C1651.7,2136.4 1655.1,2143.1 1658.2,2150.8C1661.2,2158.5 1664.3,2167.7 1667.4,2175.4C1670.5,2183.1 1673.5,2190.5 1676.6,2196.9C1679.7,2203.3 1683.0,2209.2 1685.8,2213.8C1688.7,2218.5 1691.5,2222.4 1693.5,2224.6C1695.6,2226.8 1696.4,2228.1 1698.2,2227.1C1699.9,2226.1 1702.5,2223.5 1704.3,2218.5C1706.1,2213.4 1707.5,2202.3 1708.9,2196.9C1710.4,2191.5 1711.4,2186.2 1712.9,2186.2C1714.5,2186.2 1716.5,2194.4 1718.2,2196.9C1719.8,2199.5 1721.2,2201.8 1722.8,2201.5C1724.3,2201.3 1725.8,2200.8 1727.4,2195.4C1728.9,2190.0 1730.5,2182.8 1732.0,2169.2C1733.5,2155.6 1735.1,2133.3 1736.6,2113.8C1738.2,2094.4 1739.8,2068.7 1741.2,2052.3C1742.6,2035.9 1743.1,2023.6 1744.9,2015.4C1746.7,2007.2 1750.1,2008.7 1752.0,2003.1C1753.9,1997.4 1754.8,1991.3 1756.6,1981.5C1758.4,1971.8 1760.7,1957.4 1762.8,1944.6C1764.8,1931.8 1766.9,1920.0 1768.9,1904.6C1771.0,1889.2 1773.3,1867.4 1775.1,1852.3C1776.9,1837.2 1778.3,1823.1 1779.7,1814.2C1781.1,1805.2 1782.4,1800.9 1783.7,1798.6C1785.0,1796.3 1786.0,1796.2 1787.4,1800.5C1788.8,1804.9 1790.5,1814.0 1792.0,1824.7C1793.5,1835.3 1794.8,1849.8 1796.6,1864.6C1798.4,1879.5 1800.7,1895.4 1802.8,1913.8C1804.8,1932.3 1807.1,1956.9 1808.9,1975.4C1810.7,1993.8 1811.5,2011.8 1813.5,2024.6C1815.6,2037.4 1818.7,2042.1 1821.2,2052.3C1823.8,2062.6 1826.4,2074.9 1828.9,2086.2C1831.5,2097.4 1834.1,2109.2 1836.6,2120.0C1839.2,2130.8 1842.3,2143.8 1844.3,2150.8C1846.4,2157.7 1846.9,2158.5 1848.9,2161.5C1851.0,2164.6 1854.1,2164.9 1856.6,2169.2C1859.2,2173.6 1861.5,2181.0 1864.3,2187.7C1867.1,2194.4 1870.7,2202.8 1873.5,2209.2C1876.4,2215.6 1878.9,2223.0 1881.2,2226.2C1883.5,2229.3 1885.8,2229.1 1887.4,2228.3C1888.9,2227.5 1889.4,2227.8 1890.5,2221.5C1891.5,2215.3 1892.4,2196.2 1893.5,2190.8C1894.7,2185.4 1895.9,2186.2 1897.2,2189.2C1898.5,2192.3 1900.1,2203.3 1901.2,2209.2C1902.4,2215.1 1902.5,2221.3 1904.3,2224.6C1906.1,2227.9 1908.9,2228.2 1912.0,2229.2C1915.1,2230.3 1919.4,2230.3 1922.8,2230.8C1926.1,2231.3 1929.2,2232.8 1932.0,2232.3C1934.8,2231.8 1936.9,2230.0 1939.7,2227.7C1942.5,2225.4 1945.6,2221.0 1948.9,2218.5C1952.3,2215.9 1956.4,2213.8 1959.7,2212.3C1963.0,2210.8 1965.8,2210.3 1968.9,2209.2C1972.0,2208.2 1975.6,2208.2 1978.2,2206.2C1980.7,2204.1 1982.3,2202.6 1984.3,2196.9C1986.4,2191.3 1988.4,2179.5 1990.5,2172.3C1992.5,2165.1 1994.6,2160.5 1996.6,2153.8C1998.7,2147.2 2001.0,2136.7 2002.8,2132.3C2004.6,2127.9 2005.6,2128.2 2007.4,2127.7C2009.2,2127.2 2011.8,2131.5 2013.5,2129.2C2015.2,2126.9 2016.3,2124.1 2017.5,2113.8C2018.8,2103.6 2020.1,2078.2 2021.2,2067.7C2022.4,2057.2 2023.3,2051.8 2024.3,2050.8C2025.3,2049.7 2026.4,2056.4 2027.4,2061.5C2028.4,2066.7 2029.3,2078.5 2030.5,2081.5C2031.6,2084.6 2032.9,2084.9 2034.2,2080.0C2035.4,2075.1 2036.8,2065.6 2038.2,2052.3C2039.5,2039.0 2040.9,2013.7 2042.2,2000.1C2043.4,1986.5 2044.7,1975.6 2045.8,1970.6C2047.0,1965.5 2047.6,1965.7 2048.9,1969.7C2050.2,1973.7 2052.0,1984.5 2053.5,1994.6C2055.1,2004.8 2056.4,2017.1 2058.2,2030.8C2059.9,2044.5 2062.3,2062.6 2064.3,2076.9C2066.4,2091.3 2068.4,2105.6 2070.5,2116.9C2072.5,2128.2 2074.6,2136.4 2076.6,2144.6C2078.7,2152.8 2081.0,2161.1 2082.8,2166.2C2084.6,2171.2 2085.3,2173.0 2087.4,2174.8C2089.4,2176.6 2092.5,2175.0 2095.1,2176.9C2097.6,2178.8 2099.7,2183.3 2102.8,2186.2C2105.8,2189.0 2110.7,2190.5 2113.5,2193.8C2116.4,2197.2 2117.6,2203.1 2119.7,2206.2C2121.7,2209.2 2123.8,2210.3 2125.8,2212.3C2127.9,2214.4 2130.5,2215.9 2132.0,2218.5C2133.5,2221.0 2134.6,2226.2 2135.1,2227.7"/>
</g></g>
<text class="sl" transform="translate(771.7,403) scale(1,1.04)" font-size="59.3" fill="#0000ff" font-style="italic">Bent-alg-mag</text>
<text class="sl" transform="translate(878,962) scale(1,1.04)" font-size="59.4" fill="#ff0000">Bentonite</text>
<text class="sl" transform="translate(873.4,1495.2) scale(1,1.04)" font-size="59.3" fill="#00dd00">Alginate</text>
<text class="sl" transform="translate(920.1,1974) scale(1,1.08)" font-size="59.3" fill="#ff8000">Fe<tspan class="sb" dy="14.2" dx="0.5">3</tspan><tspan dy="-14.2" dx="1">O</tspan><tspan class="sb" dy="14.2" dx="0.5">4</tspan></text>
<g class="pk">
<text transform="translate(479.2,65.9) scale(1,1.02)">3349</text>
<text transform="translate(1425.0,197.4) scale(1,1.02)">1603</text>
<text transform="translate(1519.4,368.6) scale(1,1.02)">1418</text>
<text transform="translate(1661.4,313.3) scale(1,1.02)">1078</text>
<text transform="translate(1733.8,189.3) scale(1,1.02)">1033</text>
<text transform="translate(1978.4,337.6) scale(1,1.02)">616</text>
<text transform="translate(2022.4,257.0) scale(1,1.02)">513</text>
<text transform="translate(2061.4,120.1) scale(1,1.02)">458</text>
<text transform="translate(1750.9,630.0) scale(1,1.02)">1004</text>
<text transform="translate(1846.3,849.7) scale(1,1.02)">917</text>
<text transform="translate(1882.0,946.7) scale(1,1.02)">794</text>
<text transform="translate(2003.7,851.0) scale(1,1.02)">518</text>
<text transform="translate(2052.1,679.9) scale(1,1.02)">455</text>
<text transform="translate(474.4,1403.8) scale(1,1.02)">3272</text>
<text transform="translate(1417.1,1247.4) scale(1,1.02)">1595</text>
<text transform="translate(1522.2,1367.4) scale(1,1.02)">1406</text>
<text transform="translate(1591.7,1509.3) scale(1,1.02)">1296</text>
<text transform="translate(1672.5,1401.6) scale(1,1.02)">1081</text>
<text transform="translate(1737.6,1210.4) scale(1,1.02)">1026</text>
<text transform="translate(1813.3,1507.0) scale(1,1.02)">947</text>
<text transform="translate(1871.6,1549.3) scale(1,1.02)">817</text>
<text transform="translate(567.7,2026.4) scale(1,1.02)">3109</text>
<text transform="translate(718.7,2016.2) scale(1,1.02)">2841</text>
<text transform="translate(1373.5,2100.1) scale(1,1.02)">1634</text>
<text transform="translate(1442.0,1991.6) scale(1,1.02)">1546</text>
<text transform="translate(1534.4,1896.4) scale(1,1.02)">1375</text>
<text transform="translate(1735.3,1765.5) scale(1,1.02)">1024</text>
<text transform="translate(1937.6,2097.0) scale(1,1.02)">626</text>
<text transform="translate(1965.1,2017.8) scale(1,1.02)">596</text>
<text transform="translate(2007.6,1933.9) scale(1,1.02)">558</text>
</g>
<g class="rt">
<path d="M480.2,47.7V105.5"/>
<path d="M1459.5,197.0V255.4"/>
<path d="M1563.3,373.8V432.3"/>
<path d="M1754.0,309.0V369.0"/>
<path d="M1779.2,184.6V243.0"/>
<path d="M2013.1,315.5V375.0"/>
<path d="M2070.9,265.5V324.6"/>
<path d="M2101.8,133.8V190.8"/>
<path d="M1795.5,633.0V691.7"/>
<path d="M1844.3,876.0V935.4"/>
<path d="M1913.3,946.0V1003.0"/>
<path d="M2068.1,850.8V909.0"/>
<path d="M2103.4,687.0V744.6"/>
<path d="M523.3,1411.7V1470.8"/>
<path d="M1464.0,1257.8V1315.4"/>
<path d="M1570.0,1375.4V1433.8"/>
<path d="M1631.7,1510.8V1564.6"/>
<path d="M1752.3,1403.0V1461.0"/>
<path d="M1783.2,1214.0V1273.0"/>
<path d="M1827.5,1513.0V1572.0"/>
<path d="M1900.4,1549.0V1607.7"/>
<path d="M614.8,2024.0V2083.0"/>
<path d="M765.1,2016.3V2074.8"/>
<path d="M1442.1,2108.6V2166.0"/>
<path d="M1491.5,1998.5V2057.0"/>
<path d="M1587.4,1900.0V1959.4"/>
<path d="M1784.3,1767.2V1825.6"/>
<path d="M2007.5,2097.8V2157.0"/>
<path d="M2024.4,2021.0V2079.4"/>
<path d="M2045.7,1937.0V1995.4"/>
</g>
</svg></body></html>
